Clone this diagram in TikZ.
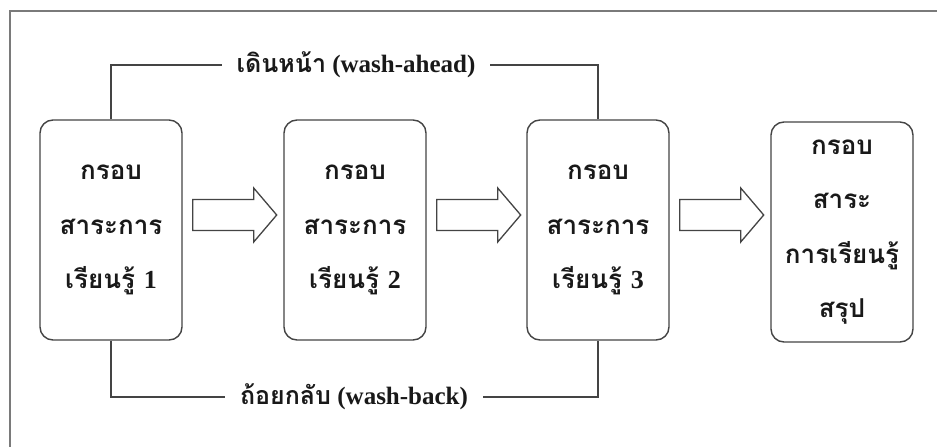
\documentclass[tikz,border=0pt]{standalone}
\usepackage{fontspec}
\setmainfont{Liberation Serif}
\newfontfamily\thaifont[Script=Thai]{Loma}
\usetikzlibrary{calc}
\definecolor{boxline}{HTML}{444444}
\definecolor{framegray}{HTML}{7A7A7A}
\tikzset{
  stagebox/.style={draw=boxline, line width=1.4pt, rounded corners=13pt, minimum width=142pt, minimum height=220pt, align=center, inner sep=0pt,
    font=\thaifont\bfseries\fontsize{26}{54.5}\selectfont, text=black!90},
  link/.style={draw=boxline, line width=1.3pt},
  linklabel/.style={fill=white, inner xsep=15pt, inner ysep=2pt, font=\bfseries\fontsize{25}{28}\selectfont, text=black!90},
  blockarrow/.style={draw=boxline, line width=1.3pt, fill=white, line join=miter}
}
\newcommand{\thd}{\thaifont\bfseries}
\newcommand{\latn}[1]{{\rmfamily\bfseries #1}}
\begin{document}
\begin{tikzpicture}[x=1pt, y=-1pt]
\useasboundingbox (0,0) rectangle (937,447);
\fill[white] (0,0) rectangle (937,447);
% outer frame (top and left edges visible)
\draw[framegray, line width=2pt] (10,447) -- (10,11) -- (937,11);

% stage boxes
\node[stagebox] (b1) at (111,230) {กรอบ\\สาระการ\\เรียนรู้ \latn{1}};
\node[stagebox] (b2) at (355,230) {กรอบ\\สาระการ\\เรียนรู้ \latn{2}};
\node[stagebox] (b3) at (598,230) {กรอบ\\สาระการ\\เรียนรู้ \latn{3}};
\node[stagebox] (b4) at (842,232) {กรอบ\\สาระ\\การเรียนรู้\\สรุป};

% block arrows between boxes
\foreach \a/\b/\n in {b1/b2/a1, b2/b3/a2, b3/b4/a3}{
  \coordinate (\n s) at ($(\a.east)+(10,-15)$);
  \coordinate (\n e) at ($(\a.east)+(94,-15)$);
  \draw[blockarrow] ($(\n s)+(0,-15.5)$) -- ($(\n e)+(-23,-15.5)$) -- ($(\n e)+(-23,-27)$) -- (\n e)
     -- ($(\n e)+(-23,27)$) -- ($(\n e)+(-23,15.5)$) -- ($(\n s)+(0,15.5)$) -- cycle;
}

% wash-ahead connector
\coordinate (topy) at (0,65);
\draw[link] (b1.north) -- (b1.north |- topy) -- (b3.north |- topy) -- (b3.north);
\node[linklabel] (ahead) at (356,65) {{\thd เดินหน้า} \latn{(wash-ahead)}};

% wash-back connector
\coordinate (boty) at (0,397);
\draw[link] (b1.south) -- (b1.south |- boty) -- (b3.south |- boty) -- (b3.south);
\node[linklabel] (back) at (354,397) {{\thd ถ้อยกลับ} \latn{(wash-back)}};
\end{tikzpicture}
\end{document}
